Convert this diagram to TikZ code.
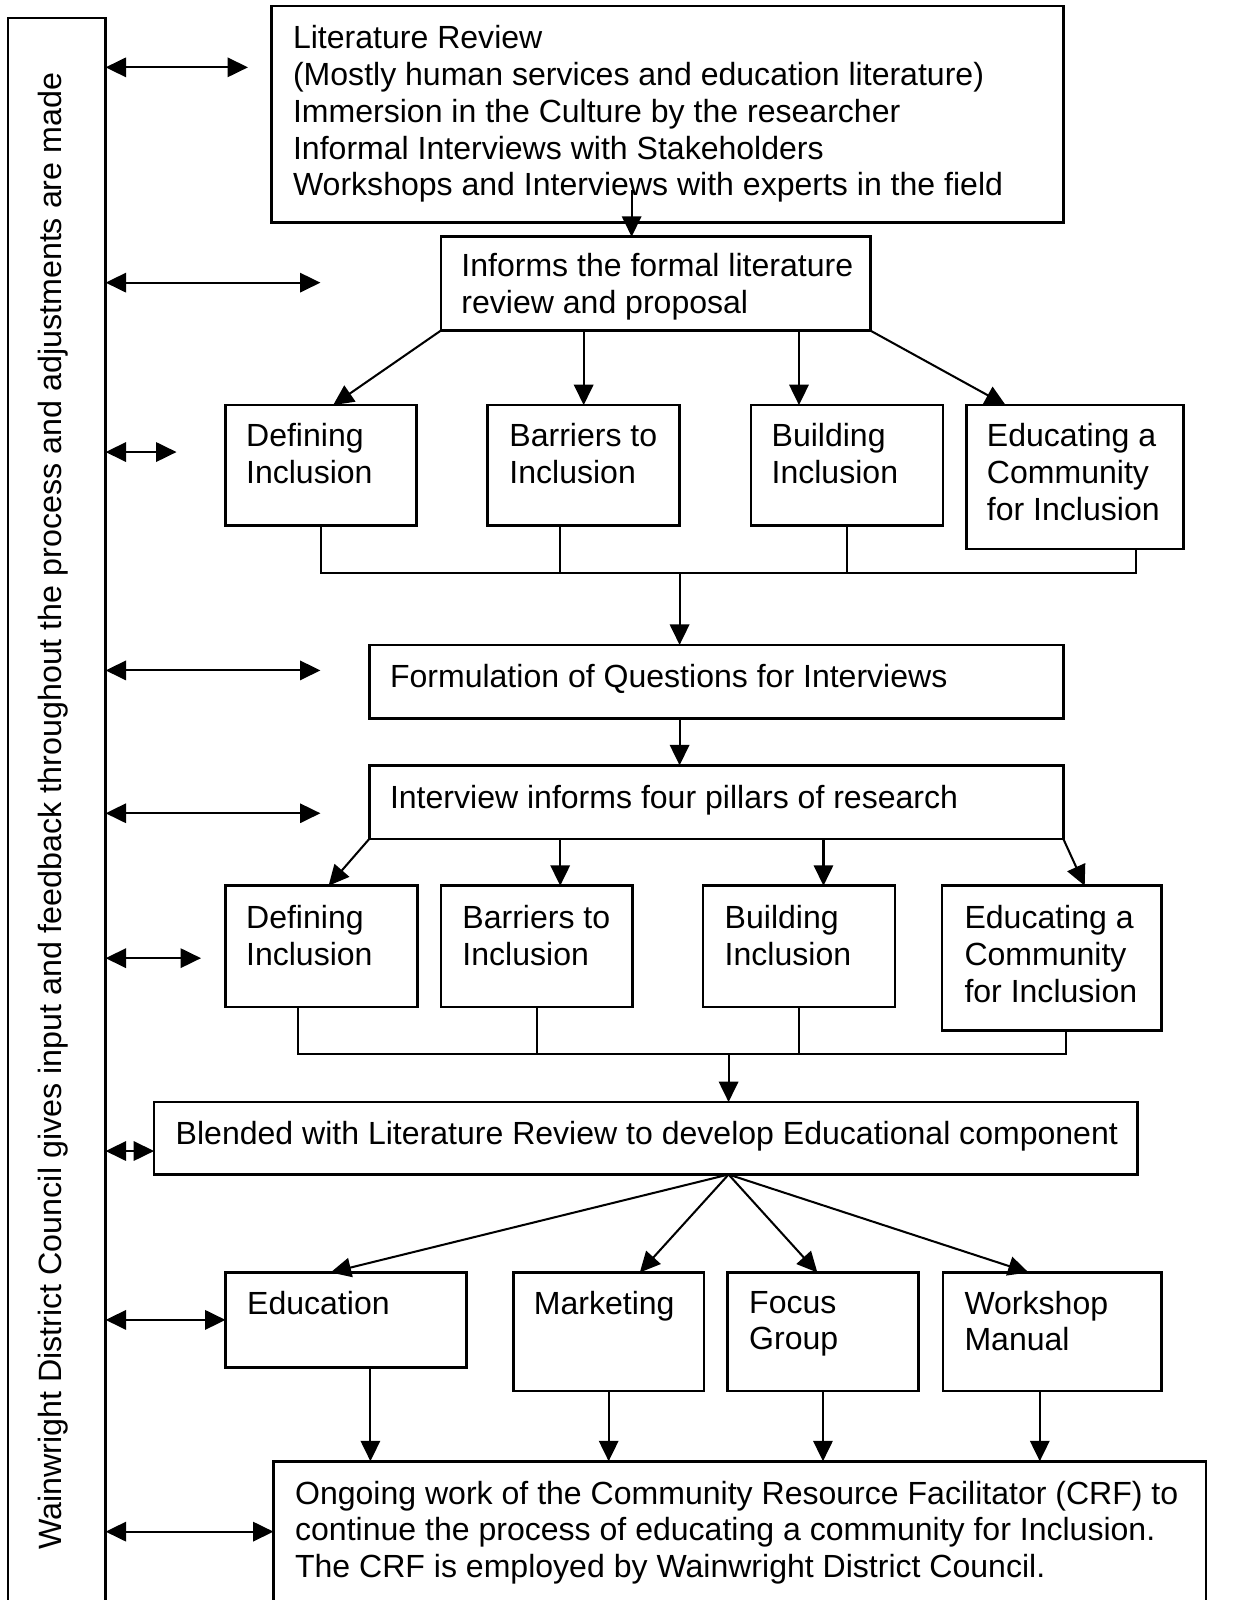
\documentclass[tikz,border=0pt]{standalone}
\usepackage{fontspec}
\setmainfont{Liberation Sans}
\usetikzlibrary{arrows.meta}
\tikzset{
  box/.style={draw, line width=2.5pt, inner sep=0pt, outer sep=0pt, anchor=north west},
  txt/.style={anchor=north west, align=left, inner sep=0pt, font=\fontsize{31.4}{36}\selectfont},
  line/.style={line width=2pt},
  arr/.style={line width=2pt, -{Triangle[length=20pt,width=19pt]}},
  dbl/.style={line width=2pt, {Triangle[length=20pt,width=19pt]}-{Triangle[length=20pt,width=19pt]}},
}
\begin{document}
\begin{tikzpicture}[x=1pt, y=-1pt]
\useasboundingbox (0,0) rectangle (1217,1568);
\clip (0,0) rectangle (1217,1568);
\node[box, minimum width=95.5pt, minimum height=1600pt] (wdc) at (8,17.5){};
\node[anchor=base, rotate=90, inner sep=0pt, font=\fontsize{31.6}{36}\selectfont] (wdctxt) at (60,795){Wainwright District Council gives input and feedback throughout the process and adjustments are made};
\node[box, minimum width=776pt, minimum height=212pt] (lit) at (266,6){};
\node[txt] (littxt) at (287,25){Literature Review\\(Mostly human services and education literature)\\Immersion in the Culture by the researcher\\Informal Interviews with Stakeholders\\Workshops and Interviews with experts in the field};
\node[box, minimum width=421pt, minimum height=92pt] (inf) at (432,232){};
\node[txt] (inftxt) at (452,248){Informs the formal literature\\review and proposal};
\node[box, minimum width=187pt, minimum height=118pt] (def1) at (221,397){};
\node[txt] (def1txt) at (241,415){Defining\\Inclusion};
\node[box, minimum width=188pt, minimum height=118pt] (bar1) at (478,397){};
\node[txt] (bar1txt) at (499,415){Barriers to\\Inclusion};
\node[box, minimum width=188pt, minimum height=118pt] (bld1) at (736,397){};
\node[txt] (bld1txt) at (756,415){Building\\Inclusion};
\node[box, minimum width=213pt, minimum height=141pt] (edu1) at (947,397){};
\node[txt] (edu1txt) at (967,415){Educating a\\Community\\for Inclusion};
\node[box, minimum width=680pt, minimum height=72pt] (frm) at (362,632){};
\node[txt] (frmtxt) at (382,651){Formulation of Questions for Interviews};
\node[box, minimum width=680pt, minimum height=72pt] (itv) at (362,750){};
\node[txt] (itvtxt) at (382,769){Interview informs four pillars of research};
\node[box, minimum width=188pt, minimum height=119pt] (def2) at (221,868){};
\node[txt] (def2txt) at (241,887){Defining\\Inclusion};
\node[box, minimum width=188pt, minimum height=119pt] (bar2) at (432,868){};
\node[txt] (bar2txt) at (453,887){Barriers to\\Inclusion};
\node[box, minimum width=188pt, minimum height=119pt] (bld2) at (689,868){};
\node[txt] (bld2txt) at (710,887){Building\\Inclusion};
\node[box, minimum width=215pt, minimum height=142pt] (edu2) at (923,868){};
\node[txt] (edu2txt) at (945,887){Educating a\\Community\\for Inclusion};
\node[box, minimum width=964pt, minimum height=71pt] (bln) at (151,1080){};
\node[txt] (blntxt) at (172,1099){Blended with Literature Review to develop Educational component};
\node[box, minimum width=236pt, minimum height=93pt] (educ) at (221,1247){};
\node[txt] (eductxt) at (242,1265){Education};
\node[box, minimum width=187pt, minimum height=116pt] (mkt) at (503,1247){};
\node[txt] (mkttxt) at (523,1265){Marketing};
\node[box, minimum width=187pt, minimum height=116pt] (fcs) at (713,1247){};
\node[txt] (fcstxt) at (734,1265){Focus\\Group};
\node[box, minimum width=214pt, minimum height=116pt] (wsh) at (924,1247){};
\node[txt] (wshtxt) at (945,1265){Workshop\\Manual};
\node[box, minimum width=914pt, minimum height=200pt] (ong) at (268,1432){};
\node[txt] (ongtxt) at (289,1451){Ongoing work of the Community Resource Facilitator (CRF) to\\continue the process of educating a community for Inclusion.\\The CRF is employed by Wainwright District Council.};
% top part
\coordinate (litout) at (619,186);
\draw[arr] (litout) -- (litout |- inf.north);
\draw[arr] (inf.south west) -- ([xshift=12pt]def1.north);
\draw[arr] (bar1.north |- inf.south) -- (bar1.north);
\coordinate (ib1) at ([xshift=-47pt]bld1.north);
\draw[arr] (ib1 |- inf.south) -- (ib1);
\draw[arr] (inf.south east) -- ([xshift=-68pt]edu1.north);
\coordinate (bus1) at (666,562);
\coordinate (ob1) at ([xshift=-23pt]bar1.south);
\coordinate (oe1) at ([xshift=59.5pt]edu1.south);
\draw[line] (def1.south) |- (oe1 |- bus1) -- (oe1);
\draw[line] (ob1) -- (ob1 |- bus1);
\draw[line] (bld1.south) -- (bld1.south |- bus1);
\draw[arr] (bus1) -- (bus1 |- frm.north);
\coordinate (fo) at ([xshift=-36pt]frm.south);
\draw[arr] (fo) -- (fo |- itv.north);
% second row
\draw[arr] (itv.south west) -- ([xshift=7pt]def2.north);
\coordinate (ib2) at ([xshift=23pt]bar2.north);
\draw[arr] (ib2 |- itv.south) -- (ib2);
\coordinate (ic2) at ([xshift=24pt]bld2.north);
\draw[arr] (ic2 |- itv.south) -- (ic2);
\draw[arr] (itv.south east) -- ([xshift=32.5pt]edu2.north);
\coordinate (bus2) at (714,1033);
\coordinate (oa2) at ([xshift=-23pt]def2.south);
\coordinate (oe2) at ([xshift=14.5pt]edu2.south);
\draw[line] (oa2) |- (oe2 |- bus2) -- (oe2);
\draw[line] (bar2.south) -- (bar2.south |- bus2);
\draw[line] (bld2.south) -- (bld2.south |- bus2);
\draw[arr] (bus2) -- (bus2 |- bln.north);
% educational component
\coordinate (fan) at ([xshift=81pt]bln.south);
\draw[arr] (fan) -- ([xshift=-15pt]educ.north);
\draw[arr] (fan) -- ([xshift=30.5pt]mkt.north);
\draw[arr] (fan) -- ([xshift=-5.5pt]fcs.north);
\draw[arr] (fan) -- ([xshift=-23pt]wsh.north);
\coordinate (oed) at ([xshift=24pt]educ.south);
\draw[arr] (oed) -- (oed |- ong.north);
\draw[arr] (mkt.south) -- (mkt.south |- ong.north);
\draw[arr] (fcs.south) -- (fcs.south |- ong.north);
\coordinate (ows) at ([xshift=-12pt]wsh.south);
\draw[arr] (ows) -- (ows |- ong.north);
% feedback from the council
\coordinate (fb1) at (243,66);
\coordinate (fb2) at (314,277);
\coordinate (fb3) at (173,443);
\coordinate (fb4) at (314,657);
\coordinate (fb5) at (314,797);
\coordinate (fb6) at (197,939);
\coordinate (fb7) at (151,1128);
\coordinate (fb9) at (268,1501);
\draw[dbl] (fb1 -| wdc.east) -- (fb1);
\draw[dbl] (fb2 -| wdc.east) -- (fb2);
\draw[dbl] (fb3 -| wdc.east) -- (fb3);
\draw[dbl] (fb4 -| wdc.east) -- (fb4);
\draw[dbl] (fb5 -| wdc.east) -- (fb5);
\draw[dbl] (fb6 -| wdc.east) -- (fb6);
\draw[dbl] (fb7 -| wdc.east) -- (fb7 -| bln.west);
\draw[dbl] (educ.west -| wdc.east) -- (educ.west);
\draw[dbl] (fb9 -| wdc.east) -- (fb9 -| ong.west);
\end{tikzpicture}
\end{document}
